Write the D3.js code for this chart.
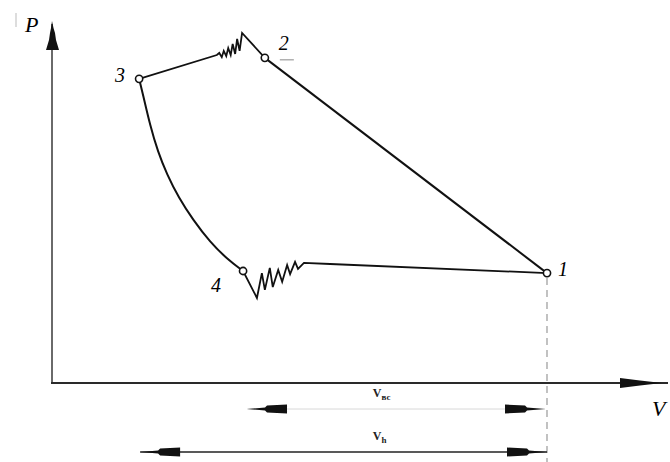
<!DOCTYPE html>
<html>
<head>
<meta charset="utf-8">
<script src="https://cdnjs.cloudflare.com/ajax/libs/d3/7.8.5/d3.min.js"></script>
<style>
  html, body { margin: 0; padding: 0; background: #fff; }
  svg { display: block; }
  text { font-family: "Liberation Serif", "DejaVu Serif", serif; }
</style>
</head>
<body>
<svg id="chart" width="670" height="462"></svg>
<script>
// Compressor indicator diagram (P–V), volumes and pressures in relative units.

// Characteristic states of the cycle
const stateLabels = ["1", "2", "3", "4"];
const stateV = [10.0, 4.30, 1.76, 3.86];
const stateP = [3.14, 9.29, 8.69, 3.20];

// 1 → 2: compression
const compressionV = [10.0, 4.30];
const compressionP = [3.14, 9.29];

// 2 → 3: discharge, with valve flutter right after opening
const dischargeV = [4.30, 3.84, 3.79, 3.74, 3.70, 3.65, 3.61, 3.56, 3.52, 3.47, 3.43, 3.38, 3.33, 1.76];
const dischargeP = [9.29, 10.0, 9.49, 9.83, 9.40, 9.69, 9.37, 9.57, 9.34, 9.49, 9.31, 9.43, 9.37, 8.69];

// 3 → 4: re-expansion of the clearance gas
const expansionV = [1.76, 1.84, 1.98, 2.14, 2.32, 2.56, 2.85, 3.19, 3.54, 3.86];
const expansionP = [8.69, 8.23, 7.37, 6.60, 5.97, 5.29, 4.66, 4.03, 3.54, 3.20];

// 4 → 1: suction, with valve flutter after opening
const suctionV = [3.86, 4.14, 4.24, 4.30, 4.40, 4.46, 4.57, 4.65, 4.75, 4.81, 4.91, 4.97, 5.09, 5.62, 10.0];
const suctionP = [3.20, 2.43, 3.14, 2.66, 3.29, 2.74, 3.23, 2.89, 3.37, 3.11, 3.46, 3.26, 3.43, 3.40, 3.14];

// Volume dimension lines below the axis
const dimSymbols = ["вс", "h"];
const dimFrom = [3.94, 1.78];
const dimTo = [9.96, 10.0];
const dimFaintMiddle = [true, false];

const axisLabels = ["P", "V"];

const svg = d3.select("#chart");

const x = d3.scaleLinear().domain([0, 10]).range([52, 547]);
const y = d3.scaleLinear().domain([0, 10]).range([383, 33]);

const zip = (vs, ps) => vs.map((v, i) => [v, ps[i]]);
const line = d3.line().x(d => x(d[0])).y(d => y(d[1]));
const smooth = d3.line().x(d => x(d[0])).y(d => y(d[1])).curve(d3.curveBasis);

// ---- Axes ----
const x0 = x(0), y0 = y(0);
svg.append("line")
  .attr("x1", x0).attr("y1", y0).attr("x2", x0).attr("y2", 24)
  .attr("stroke", "#6a6a6a").attr("stroke-width", 2);
svg.append("line")
  .attr("x1", x0 - 1).attr("y1", y0).attr("x2", 668).attr("y2", y0)
  .attr("stroke", "#2a2a2a").attr("stroke-width", 2);

// stepped arrowhead on the P axis
svg.append("path")
  .attr("d", `M${x0},21 L${x0 + 1.5},28 L${x0 + 3},33 L${x0 + 4},40 L${x0 + 7},50 L${x0 - 6},50 L${x0 - 3},40 L${x0 - 2},33 L${x0 - 1},28 Z`)
  .attr("fill", "#111");
// arrowhead on the V axis
svg.append("path")
  .attr("d", `M${662},${y0} L${640},${y0 - 2.5} L${620},${y0 - 5} L${620},${y0 + 5} L${640},${y0 + 2.5} Z`)
  .attr("fill", "#111");

svg.append("text")
  .attr("x", 25).attr("y", 32)
  .attr("font-size", 22).attr("font-style", "italic")
  .text(axisLabels[0]);
svg.append("line")
  .attr("x1", 16).attr("y1", 13).attr("x2", 16).attr("y2", 27)
  .attr("stroke", "#bbb").attr("stroke-width", 1);
svg.append("text")
  .attr("x", 652).attr("y", 416)
  .attr("font-size", 22).attr("font-style", "italic")
  .text(axisLabels[1]);

// ---- Dashed guide through state 1 ----
svg.append("line")
  .attr("x1", x(stateV[0])).attr("y1", y(stateP[0]) + 5)
  .attr("x2", x(stateV[0])).attr("y2", 462)
  .attr("stroke", "#999").attr("stroke-width", 1.2)
  .attr("stroke-dasharray", "7,5");

// ---- Cycle ----
const cycle = svg.append("g")
  .attr("fill", "none").attr("stroke", "#111")
  .attr("stroke-width", 2).attr("stroke-linejoin", "miter");
cycle.append("path").attr("d", line(zip(compressionV, compressionP)));
cycle.append("path").attr("d", line(zip(dischargeV, dischargeP))).attr("stroke-width", 1.8);
cycle.append("path").attr("d", smooth(zip(expansionV, expansionP)));
cycle.append("path").attr("d", line(zip(suctionV, suctionP))).attr("stroke-width", 1.8);

// state markers
svg.selectAll("circle.state")
  .data(stateLabels)
  .join("circle")
  .attr("class", "state")
  .attr("cx", (d, i) => x(stateV[i]))
  .attr("cy", (d, i) => y(stateP[i]))
  .attr("r", 3.6)
  .attr("fill", "#fff").attr("stroke", "#111").attr("stroke-width", 1.6);

// state labels, placed around each marker
const labelOffset = [[11, 3], [14, -8], [-24, 3], [-32, 21]];
svg.selectAll("text.state")
  .data(stateLabels)
  .join("text")
  .attr("class", "state")
  .attr("x", (d, i) => x(stateV[i]) + labelOffset[i][0])
  .attr("y", (d, i) => y(stateP[i]) + labelOffset[i][1])
  .attr("font-size", 20).attr("font-style", "italic")
  .text(d => d);
// small tick below label 2
svg.append("line")
  .attr("x1", x(stateV[1]) + 15).attr("y1", y(stateP[1]) + 2)
  .attr("x2", x(stateV[1]) + 29).attr("y2", y(stateP[1]) + 2)
  .attr("stroke", "#888").attr("stroke-width", 1);

// ---- Volume dimensions ----
const dimY = [409, 452];
const dimLabelX = x(6.48);
function arrowHead(g, tipX, cy, dir) {
  // dir = -1 points left, +1 points right
  const p = [[0, 0], [18, -1.5], [20, -3.5], [40, -4.5], [40, 4.5], [20, 3.5], [18, 1.5]]
    .map(([dx, dy]) => [tipX - dir * dx, cy + dy]);
  g.append("path").attr("d", "M" + p.join("L") + "Z").attr("fill", "#111");
}
dimSymbols.forEach((s, i) => {
  const g = svg.append("g");
  const xa = x(dimFrom[i]), xb = x(dimTo[i]), cy = dimY[i];
  g.append("line")
    .attr("x1", xa).attr("y1", cy).attr("x2", xb).attr("y2", cy)
    .attr("stroke", dimFaintMiddle[i] ? "#d8d8d8" : "#222")
    .attr("stroke-width", dimFaintMiddle[i] ? 1 : 1.6);
  arrowHead(g, xa, cy, -1);
  arrowHead(g, xb, cy, 1);
  const t = g.append("text")
    .attr("x", dimLabelX)
    .attr("y", cy - 12)
    .attr("font-size", 12)
    .attr("font-weight", "bold")
    .attr("fill", "#222");
  t.append("tspan").text("V");
  t.append("tspan").attr("dy", 3).attr("font-size", 9).text(s);
});
</script>
</body>
</html>
